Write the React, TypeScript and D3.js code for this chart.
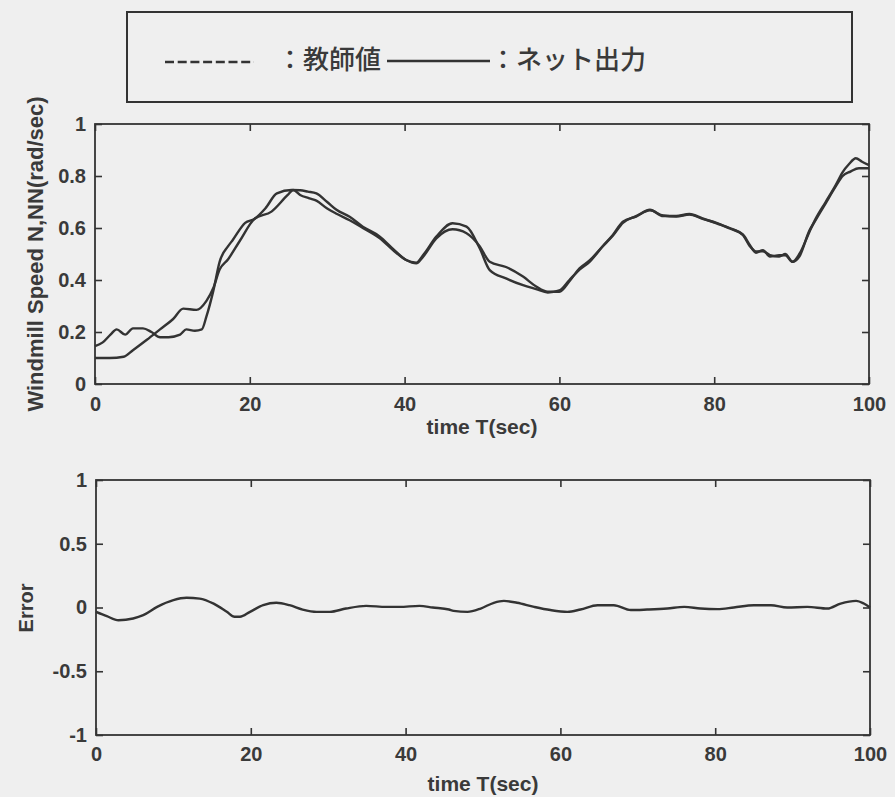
import React, { useEffect, useRef } from 'react';
import * as d3 from 'd3';

const WIDTH = 895;
const HEIGHT = 797;

// tick values shared by both panels
const timeTicks = [0, 20, 40, 60, 80, 100];
const speedTicks = [0, 0.2, 0.4, 0.6, 0.8, 1];
const errorTicks = [-1, -0.5, 0, 0.5, 1];

const legendLabels = ['：教師値', '：ネット出力'];
const xTitle = 'time T(sec)';
const speedTitle = 'Windmill Speed N,NN(rad/sec)';
const errorTitle = 'Error';

// 教師値 (teacher signal)
const teacherT = [0, 1, 2, 2.8, 3.9, 4.9, 6.2, 7.3, 8.4, 9.5, 11, 11.8, 12.9, 13.8, 14.4, 15.3, 16.1, 17.2, 17.8, 19.4, 20.6, 22, 23.5, 25.4, 26.5, 27.5, 28.6, 30, 31.2, 32.9, 34.6, 36.8, 38.5, 40.2, 41.5, 42.4, 44.1, 46.2, 48, 49.7, 51, 53.1, 55.3, 57, 58.5, 60, 61.3, 62.6, 63.9, 65.6, 66.9, 68.2, 69.9, 71.7, 73.4, 75.1, 76.8, 78.5, 80.3, 82, 83.7, 84.6, 85.4, 86.3, 87.2, 88.4, 89.2, 90.1, 91, 92.3, 93.1, 94.4, 95.7, 96.6, 97.6, 98.7, 100];
const teacherV = [0.146, 0.16, 0.19, 0.21, 0.19, 0.214, 0.214, 0.2, 0.18, 0.18, 0.19, 0.21, 0.205, 0.21, 0.26, 0.36, 0.47, 0.53, 0.554, 0.62, 0.635, 0.675, 0.733, 0.746, 0.745, 0.74, 0.733, 0.7, 0.67, 0.643, 0.605, 0.567, 0.52, 0.477, 0.467, 0.496, 0.567, 0.618, 0.605, 0.522, 0.438, 0.406, 0.38, 0.365, 0.352, 0.36, 0.4, 0.44, 0.47, 0.53, 0.573, 0.624, 0.644, 0.67, 0.646, 0.646, 0.654, 0.637, 0.618, 0.6, 0.573, 0.53, 0.51, 0.51, 0.496, 0.49, 0.5, 0.47, 0.49, 0.59, 0.63, 0.695, 0.76, 0.8, 0.817, 0.83, 0.83];

// ネット出力 (network output)
const netT = [0, 1.9, 3.7, 4.9, 6.7, 8.4, 10.1, 11.4, 13.1, 14.4, 15.3, 16.1, 17.2, 18.7, 20.6, 22.8, 24.9, 25.6, 26.5, 27.7, 28.6, 30, 31.2, 32.9, 34.6, 36.8, 38.5, 40.2, 41.5, 42.4, 44.1, 46.2, 48, 49.7, 51, 53.1, 55.3, 57, 58.5, 60, 61.3, 62.6, 63.9, 65.6, 66.9, 68.2, 69.9, 71.7, 73.4, 75.1, 76.8, 78.5, 80.3, 82, 83.7, 84.6, 85.4, 86.3, 87.2, 88.4, 89.2, 90.1, 91, 92.3, 93.1, 94.4, 95.7, 96.6, 97.4, 98.3, 99.1, 100];
const netV = [0.1, 0.1, 0.105, 0.13, 0.17, 0.21, 0.25, 0.29, 0.285, 0.32, 0.37, 0.44, 0.48, 0.55, 0.635, 0.663, 0.727, 0.746, 0.727, 0.714, 0.705, 0.675, 0.655, 0.63, 0.6, 0.56, 0.515, 0.477, 0.464, 0.49, 0.56, 0.595, 0.58, 0.53, 0.47, 0.45, 0.413, 0.375, 0.355, 0.355, 0.395, 0.445, 0.475, 0.53, 0.57, 0.62, 0.646, 0.668, 0.648, 0.644, 0.652, 0.635, 0.62, 0.598, 0.575, 0.535, 0.505, 0.515, 0.49, 0.495, 0.495, 0.47, 0.5, 0.585, 0.635, 0.7, 0.765, 0.815, 0.845, 0.868, 0.855, 0.842];

// Error
const errorT = [0, 1.4, 2.9, 4.8, 6.1, 7.9, 10, 11.7, 13.4, 15.2, 16.9, 17.9, 18.6, 19.9, 21.6, 23.3, 25, 26.7, 28.5, 30.2, 32.3, 34.9, 37.5, 39.2, 41.8, 43.5, 45.6, 46.2, 48, 49.7, 51.4, 52.7, 54.4, 56.6, 58.7, 60.9, 62.6, 64.8, 66.9, 69.1, 71.2, 73.8, 76, 78.1, 80.3, 82.4, 85, 87.2, 89.3, 91.9, 94.5, 96.2, 98.2, 99.2, 100];
const errorV = [-0.034, -0.068, -0.1, -0.086, -0.06, 0.005, 0.058, 0.076, 0.07, 0.03, -0.034, -0.073, -0.073, -0.034, 0.018, 0.037, 0.018, -0.016, -0.034, -0.034, -0.008, 0.013, 0.005, 0.005, 0.013, 0, -0.016, -0.026, -0.034, -0.008, 0.037, 0.052, 0.037, 0.005, -0.02, -0.034, -0.016, 0.018, 0.018, -0.02, -0.016, -0.008, 0.005, -0.008, -0.013, 0, 0.018, 0.018, 0, 0.005, -0.008, 0.031, 0.052, 0.031, 0];

const INK = '#333333';
const TEXT = '#3a3a3a';
const FONT = '"Liberation Sans", Arial, sans-serif';
const CJK = '"Noto Sans CJK JP", "Noto Sans CJK SC", sans-serif';

type Panel = {
  left: number;
  right: number;
  top: number;
  bottom: number;
  yDomain: [number, number];
  yTicks: number[];
  xPad: number;
  series: { t: number[]; v: number[] }[];
};

const drawPanel = (svg: d3.Selection<SVGSVGElement, unknown, null, undefined>, p: Panel) => {
  const x = d3.scaleLinear().domain([0, 100]).range([p.left, p.right]);
  const y = d3.scaleLinear().domain(p.yDomain).range([p.bottom, p.top]);

  const g = svg.append('g');

  const styleAxis = (a: d3.Selection<SVGGElement, unknown, null, undefined>) => {
    a.select('.domain').remove();
    a.selectAll('line').attr('stroke', INK).attr('stroke-width', 1.6);
    a.selectAll('text')
      .attr('fill', TEXT)
      .style('font-family', FONT)
      .style('font-size', '20px')
      .style('font-weight', 'bold');
  };

  // inward ticks on all four sides
  g.append('g')
    .attr('transform', `translate(0,${p.bottom})`)
    .call(d3.axisBottom(x).tickValues(timeTicks).tickSize(-7).tickPadding(p.xPad).tickFormat((d) => String(d)))
    .call(styleAxis);
  g.append('g')
    .attr('transform', `translate(0,${p.top})`)
    .call(d3.axisTop(x).tickValues(timeTicks).tickSize(-7).tickFormat(() => ''))
    .call(styleAxis);
  g.append('g')
    .attr('transform', `translate(${p.left},0)`)
    .call(d3.axisLeft(y).tickValues(p.yTicks).tickSize(-7).tickPadding(9).tickFormat((d) => String(d)))
    .call(styleAxis);
  g.append('g')
    .attr('transform', `translate(${p.right},0)`)
    .call(d3.axisRight(y).tickValues(p.yTicks).tickSize(-7).tickFormat(() => ''))
    .call(styleAxis);

  g.append('rect')
    .attr('x', p.left)
    .attr('y', p.top)
    .attr('width', p.right - p.left)
    .attr('height', p.bottom - p.top)
    .attr('fill', 'none')
    .attr('stroke', INK)
    .attr('stroke-width', 1.8);

  p.series.forEach((s) => {
    const line = d3
      .line<number>()
      .x((_, i) => x(s.t[i]))
      .y((d) => y(d))
      .curve(d3.curveMonotoneX);
    g.append('path')
      .attr('d', line(s.v))
      .attr('fill', 'none')
      .attr('stroke', INK)
      .attr('stroke-width', 2.4)
      .attr('stroke-linejoin', 'round');
  });

  return { x, y };
};

const App = () => {
  const ref = useRef<SVGSVGElement>(null);

  useEffect(() => {
    const svg = d3.select(ref.current as SVGSVGElement);
    svg.selectAll('*').remove();

    svg.append('rect').attr('width', WIDTH).attr('height', HEIGHT).attr('fill', '#efefef');

    // legend box
    svg.append('rect')
      .attr('x', 127).attr('y', 12).attr('width', 725).attr('height', 90)
      .attr('fill', 'none').attr('stroke', INK).attr('stroke-width', 2);
    svg.append('line')
      .attr('x1', 165).attr('x2', 254).attr('y1', 62).attr('y2', 62)
      .attr('stroke', INK).attr('stroke-width', 2.4).attr('stroke-dasharray', '9 3.7');
    svg.append('line')
      .attr('x1', 387).attr('x2', 490).attr('y1', 61).attr('y2', 61)
      .attr('stroke', INK).attr('stroke-width', 2.4);
    [277, 490].forEach((lx, i) => {
      svg.append('text')
        .attr('x', lx).attr('y', 69)
        .attr('fill', TEXT)
        .style('font-family', CJK)
        .style('font-size', '26px')
        .style('font-weight', 500)
        .text(legendLabels[i]);
    });

    // upper panel: speed
    drawPanel(svg, {
      left: 95, right: 869, top: 124, bottom: 384,
      yDomain: [0, 1], yTicks: speedTicks, xPad: 13,
      series: [{ t: teacherT, v: teacherV }, { t: netT, v: netV }],
    });

    // lower panel: error
    drawPanel(svg, {
      left: 96, right: 870, top: 480, bottom: 735,
      yDomain: [-1, 1], yTicks: errorTicks, xPad: 12,
      series: [{ t: errorT, v: errorV }],
    });

    const title = (tx: number, ty: number, txt: string, rotate: boolean, size: number) => {
      svg.append('text')
        .attr('transform', `translate(${tx},${ty})${rotate ? ' rotate(-90)' : ''}`)
        .attr('text-anchor', 'middle')
        .attr('fill', TEXT)
        .style('font-family', FONT)
        .style('font-size', `${size}px`)
        .style('font-weight', 'bold')
        .text(txt);
    };
    title(482, 434, xTitle, false, 21);
    title(483, 791, xTitle, false, 21);
    title(43, 254, speedTitle, true, 22);
    title(33, 608, errorTitle, true, 20);
  }, []);

  return (
    <svg
      ref={ref}
      width={WIDTH}
      height={HEIGHT}
      style={{ position: 'absolute', left: 0, top: 0, display: 'block' }}
    />
  );
};

export default App;
